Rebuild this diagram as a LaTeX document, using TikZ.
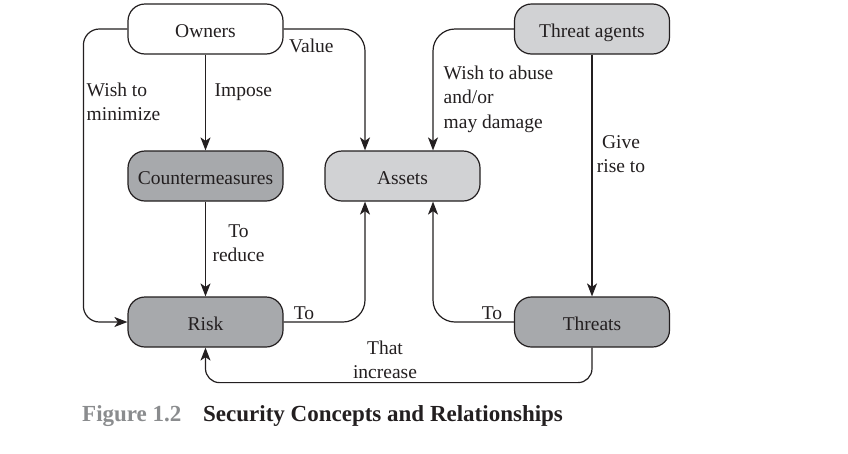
\documentclass[tikz,border=0pt]{standalone}
\usepackage{fontspec}
\setmainfont{Liberation Serif}
\usetikzlibrary{arrows.meta}
\definecolor{ink}{HTML}{231F20}
\definecolor{lightbox}{HTML}{D1D2D4}
\definecolor{darkbox}{HTML}{A7A9AC}
\definecolor{figgray}{HTML}{8A8C8E}
\tikzset{
  box/.style={draw=ink, line width=1.2pt, rounded corners=17pt, minimum width=155pt, minimum height=50pt, inner sep=0pt, text height=16pt, text depth=0pt, text=ink, font=\fontsize{19.5}{24}\selectfont},
  arr/.style={draw=ink, line width=1.2pt, -{Stealth[length=13pt,width=10pt,inset=3.5pt]}},
  lbl/.style={inner sep=0pt, text=ink, yshift=-2pt, font=\fontsize{19.5}{24.5}\selectfont},
  captionstyle/.style={inner sep=0pt, font=\fontsize{23}{27}\selectfont\bfseries}
}
\begin{document}
\begin{tikzpicture}[x=1pt,y=-1pt]
\useasboundingbox (0,0) rectangle (848,453);
\fill[white] (0,0) rectangle (848,453);
\node[box, fill=white] (own) at (205.5,29) {Owners};
\node[box, fill=lightbox] (ta) at (592,29) {Threat agents};
\node[box, fill=darkbox] (cm) at (205.5,176) {Countermeasures};
\node[box, fill=lightbox] (assets) at (402.5,176) {Assets};
\node[box, fill=darkbox] (risk) at (205.5,322) {Risk};
\node[box, fill=darkbox] (threats) at (592,322) {Threats};
% connectors
\draw[arr] (own.south) -- (cm.north);
\draw[arr, rounded corners=16pt] (own.west) -- ++(-44,0) |- (risk.west);
\draw[arr, rounded corners=22pt] (own.east) -| ([xshift=-37.5pt]assets.north);
\draw[arr, rounded corners=22pt] (ta.west) -| ([xshift=30.5pt]assets.north);
\draw[arr] (ta.south) -- (threats.north);
\draw[arr] (cm.south) -- (risk.north);
\draw[arr, rounded corners=22pt] (risk.east) -| ([xshift=-37.5pt]assets.south);
\draw[arr, rounded corners=22pt] (threats.west) -| ([xshift=30.5pt]assets.south);
\draw[arr, rounded corners=14pt] (threats.south) -- ++(0,35) -| (risk.south);
% labels
\node[lbl, anchor=west] (limpose) at (214.5,90) {Impose};
\node[lbl, anchor=west, align=left] (lwish) at (86.5,100) {Wish to\\minimize};
\node[lbl, anchor=west] (lvalue) at (289,44) {Value};
\node[lbl, anchor=west, align=left] (labuse) at (443.5,97) {Wish to abuse\\and/or\\may damage};
\node[lbl, align=center] (lgive) at (621,152) {Give\\rise to};
\node[lbl, align=center] (lreduce) at (238.5,241) {To\\reduce};
\node[lbl] (lto1) at (304,311) {To};
\node[lbl] (lto2) at (492,311) {To};
\node[lbl, align=center] (lincr) at (385,358) {That\\increase};
% caption
\node[captionstyle, anchor=west, text=figgray] (capfig) at (82,416) {Figure 1.2};
\node[captionstyle, anchor=west, text=ink] (captxt) at (203,416) {Security Concepts and Relationships};
\end{tikzpicture}
\end{document}
